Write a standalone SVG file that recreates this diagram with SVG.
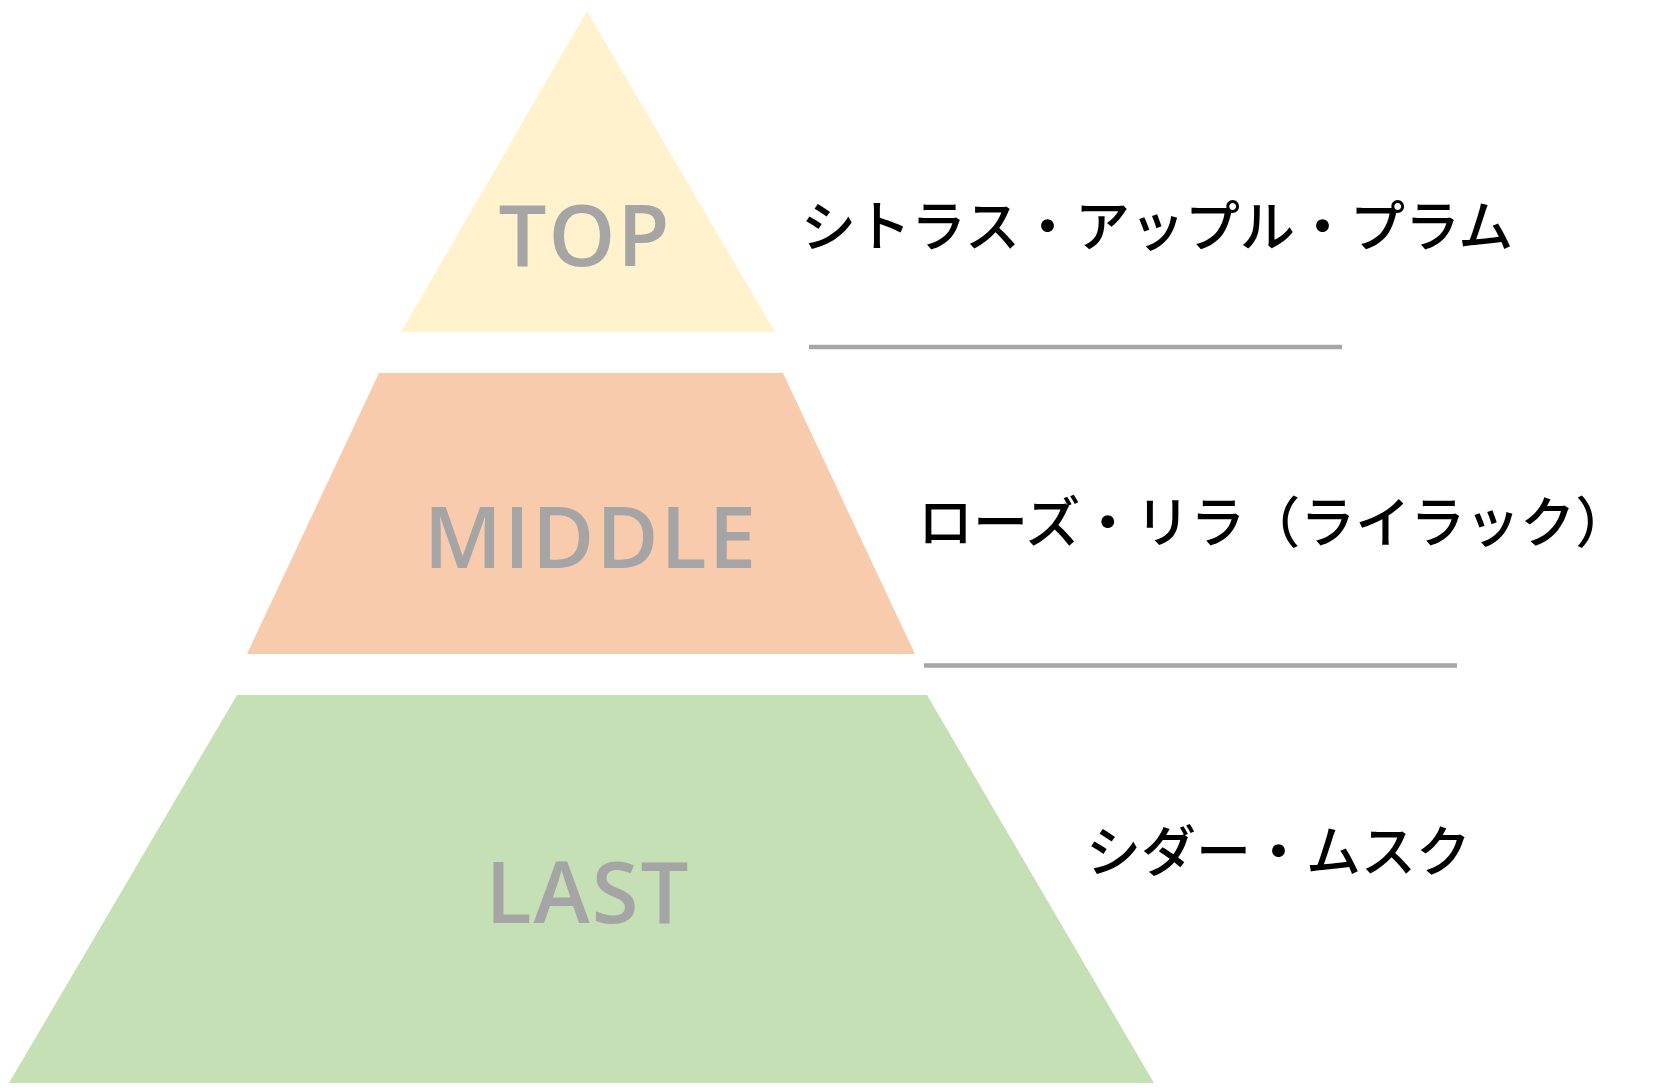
<svg xmlns="http://www.w3.org/2000/svg" width="1673" height="1088" viewBox="0 0 1673 1088">
<style>
.lvl{font-family:"Open Sans","Liberation Sans",Arial,sans-serif;font-size:85px;font-weight:600;letter-spacing:2px;fill:#a5a5a5;text-anchor:middle}
.note{font-family:"Noto Sans CJK JP",sans-serif;font-size:55px;font-weight:500;fill:#000}
.sep{stroke:#a6a6a6;stroke-width:4.5;fill:none}
</style>
<rect width="1673" height="1088" fill="#ffffff"/>
<g id="top">
<polygon points="587,11 775,332 401,332" fill="#fff2cc"/>
<text class="lvl" x="585" y="266">TOP</text>
</g>
<g id="middle">
<polygon points="379,373 783,373 915,654 247,654" fill="#f8cbad"/>
<text class="lvl" x="591" y="568">MIDDLE</text>
</g>
<g id="last">
<polygon points="237,695 927,695 1154,1083 9,1083" fill="#c5e0b4"/>
<text class="lvl" x="588" y="923">LAST</text>
</g>
<g id="note-top"><text class="note" x="801" y="246">シトラス・アップル・プラム</text></g>
<g id="note-middle"><text class="note" x="918" y="542">ローズ・リラ（ライラック）</text></g>
<g id="note-last"><text class="note" x="1086" y="871">シダー・ムスク</text></g>
<g id="connectors">
<line class="sep" x1="809" y1="347" x2="1342" y2="347"/>
<line class="sep" x1="924" y1="665.5" x2="1457" y2="665.5"/>
</g>
</svg>
